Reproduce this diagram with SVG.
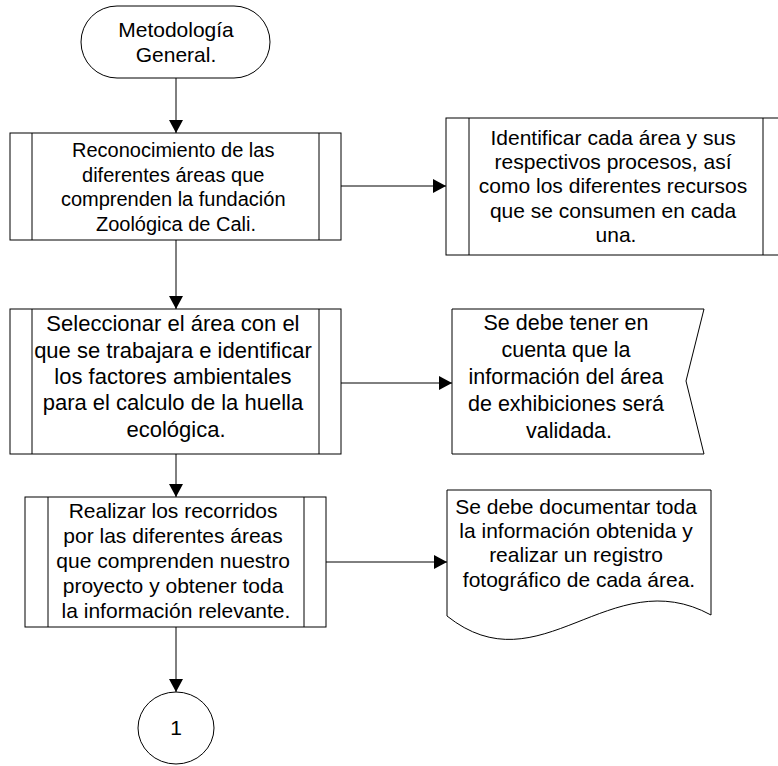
<svg xmlns="http://www.w3.org/2000/svg" width="778" height="766" viewBox="0 0 778 766">
  <style>
    .shape { fill: #ffffff; stroke: #000000; stroke-width: 1; }
    .rule { fill: none; stroke: #000000; stroke-width: 1; }
    .conn { fill: none; stroke: #000000; stroke-width: 1; marker-end: url(#arrow); }
    text { font-family: "Liberation Sans", Arial, sans-serif; fill: #000000; text-anchor: middle; }
  </style>
  <defs>
    <marker id="arrow" markerUnits="userSpaceOnUse" markerWidth="14" markerHeight="14" refX="13" refY="7" orient="auto">
      <path d="M0,0 L13,7 L0,14 Z" fill="#000000"/>
    </marker>
  </defs>
  <rect width="778" height="766" fill="#ffffff"/>

  <!-- connectors -->
  <g id="connectors">
    <line class="conn" x1="176" y1="78" x2="176" y2="133"/>
    <line class="conn" x1="341" y1="186" x2="446" y2="186"/>
    <line class="conn" x1="176" y1="240" x2="176" y2="309"/>
    <line class="conn" x1="341" y1="383" x2="452" y2="383"/>
    <line class="conn" x1="176" y1="454" x2="176" y2="497"/>
    <line class="conn" x1="326" y1="562" x2="447" y2="562"/>
    <line class="conn" x1="176" y1="627" x2="176" y2="692"/>
  </g>

  <!-- start terminator -->
  <g id="start">
    <rect class="shape" x="81" y="6" width="189" height="72" rx="36" ry="36"/>
    <text font-size="21"><tspan x="176" y="37">Metodología</tspan><tspan x="176" y="62">General.</tspan></text>
  </g>

  <!-- predefined process: recognition of areas -->
  <g id="reconocimiento">
    <rect class="shape" x="10" y="133" width="331" height="107"/>
    <line class="rule" x1="32" y1="133" x2="32" y2="240"/>
    <line class="rule" x1="319" y1="133" x2="319" y2="240"/>
    <text font-size="20">
      <tspan x="176" y="157">Reconocimiento de las</tspan>
      <tspan x="176" y="181.5">diferentes áreas que</tspan>
      <tspan x="176" y="206">comprenden la fundación</tspan>
      <tspan x="176" y="230.5">Zoológica de Cali.</tspan>
    </text>
  </g>

  <!-- predefined process: identify processes and resources -->
  <g id="identificar">
    <rect class="shape" x="446" y="118" width="340" height="137"/>
    <line class="rule" x1="469" y1="118" x2="469" y2="255"/>
    <line class="rule" x1="763" y1="118" x2="763" y2="255"/>
    <text font-size="21">
      <tspan x="616" y="145">Identificar cada área y sus</tspan>
      <tspan x="616" y="169.2">respectivos procesos, así</tspan>
      <tspan x="616" y="193.4">como los diferentes recursos</tspan>
      <tspan x="616" y="217.6">que se consumen en cada</tspan>
      <tspan x="616" y="241.8">una.</tspan>
    </text>
  </g>

  <!-- predefined process: select area -->
  <g id="seleccionar">
    <rect class="shape" x="10" y="309" width="331" height="145"/>
    <line class="rule" x1="32" y1="309" x2="32" y2="454"/>
    <line class="rule" x1="319" y1="309" x2="319" y2="454"/>
    <text font-size="22">
      <tspan x="176" y="331">Seleccionar el área con el</tspan>
      <tspan x="176" y="357.5">que se trabajara e identificar</tspan>
      <tspan x="176" y="384">los factores ambientales</tspan>
      <tspan x="176" y="410">para el calculo de la huella</tspan>
      <tspan x="176" y="436.5">ecológica.</tspan>
    </text>
  </g>

  <!-- note with notched right side -->
  <g id="nota-exhibiciones">
    <path class="shape" d="M452,309 L704,309 L686,381 L704,454 L452,454 Z"/>
    <text font-size="21.5">
      <tspan x="569" y="330">Se debe tener en</tspan>
      <tspan x="569" y="357">cuenta que la</tspan>
      <tspan x="569" y="384">información del área</tspan>
      <tspan x="569" y="411">de exhibiciones será</tspan>
      <tspan x="569" y="438">validada.</tspan>
    </text>
  </g>

  <!-- predefined process: site visits -->
  <g id="recorridos">
    <rect class="shape" x="25" y="497" width="301" height="130"/>
    <line class="rule" x1="48" y1="497" x2="48" y2="627"/>
    <line class="rule" x1="304" y1="497" x2="304" y2="627"/>
    <text font-size="21">
      <tspan x="176" y="518">Realizar los recorridos</tspan>
      <tspan x="176" y="543">por las diferentes áreas</tspan>
      <tspan x="176" y="568">que comprenden nuestro</tspan>
      <tspan x="176" y="593">proyecto y obtener toda</tspan>
      <tspan x="176" y="618">la información relevante.</tspan>
    </text>
  </g>

  <!-- document shape -->
  <g id="documentar">
    <path class="shape" d="M447,490 L711,490 L711,615 C610,560 540,690 447,616 Z"/>
    <text font-size="21">
      <tspan x="579" y="514">Se debe documentar toda</tspan>
      <tspan x="579" y="538">la información obtenida y</tspan>
      <tspan x="579" y="562">realizar un registro</tspan>
      <tspan x="579" y="586.5">fotográfico de cada área.</tspan>
    </text>
  </g>

  <!-- off-page connector -->
  <g id="conector-1">
    <ellipse class="shape" cx="176" cy="728" rx="38" ry="36"/>
    <text font-size="21" x="176" y="735">1</text>
  </g>
</svg>
